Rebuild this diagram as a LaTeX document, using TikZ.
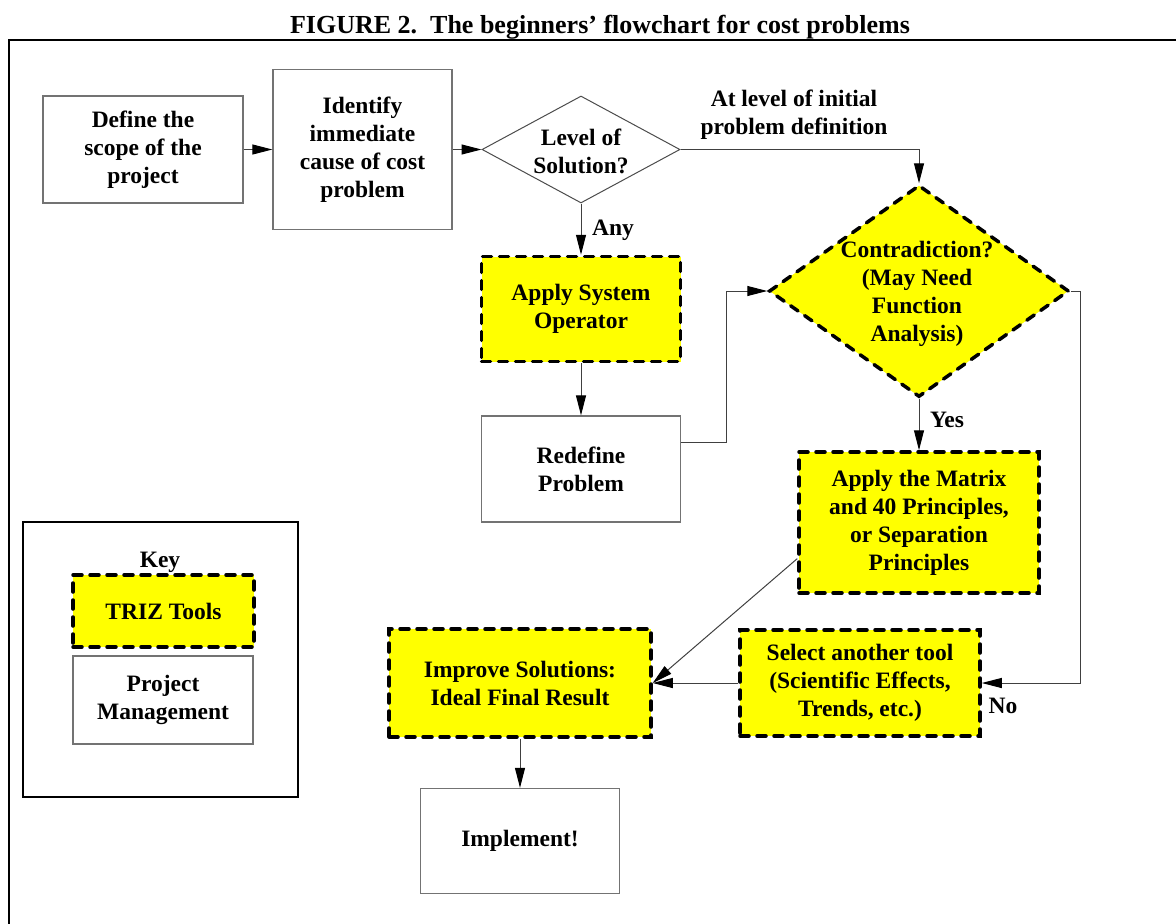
\documentclass[tikz,border=0pt]{standalone}
\usepackage{fontspec}
\setmainfont{Liberation Serif}
\usetikzlibrary{arrows.meta,shapes.geometric,calc}
\definecolor{trizyellow}{RGB}{255,255,0}
\tikzset{
  txt/.style={font=\fontsize{23.5}{28}\selectfont\bfseries, align=center},
  pmbox/.style={txt, draw=black!55, line width=1.3pt, fill=white, inner sep=0pt},
  trizbox/.style={txt, draw=black, fill=trizyellow, line width=3.5pt, dash pattern=on 9pt off 8pt, line cap=round, inner sep=0pt},
  conn/.style={draw=black!75, line width=1pt, -{Triangle[length=20pt,width=10pt,color=black]}},
  lbl/.style={txt, anchor=base},
}
\begin{document}
\begin{tikzpicture}[x=1pt,y=-1pt]
\useasboundingbox (0,0) rectangle (1176,924);
% title and frame
\node[font=\fontsize{26}{30}\selectfont\bfseries, anchor=base] (title) at (600,33) {FIGURE 2.\ \ The beginners’ flowchart for cost problems};
\draw[line width=2pt] (1176,40) -- (9,40) -- (9,924);

% boxes
\node[pmbox, minimum width=200pt, minimum height=107pt] (def) at (143,149.5) {Define the\\scope of the\\project};
\node[pmbox, minimum width=179pt, minimum height=160pt] (ident) at (362.5,149.5) {Identify\\immediate\\cause of cost\\problem};
\node[diamond, draw=black!70, line width=1pt, fill=white, inner sep=0pt, minimum width=198pt, minimum height=107pt] (lvl) at (581,149.5) {};
\node[txt] (lvltxt) at (581,151) {Level of\\Solution?};
\node[trizbox, minimum width=199pt, minimum height=105pt] (aso) at (581,309) {Apply System\\Operator};
\node[pmbox, minimum width=199pt, minimum height=106pt] (redef) at (581,469) {Redefine\\Problem};
\node[trizbox, diamond, minimum width=300pt, minimum height=212pt] (cont) at (919,291) {};
\node[txt] (conttxt) at (917,294) {Contradiction?\\(May Need\\Function\\Analysis)};
\node[trizbox, minimum width=240pt, minimum height=141pt] (matrix) at (919,522.5) {Apply the Matrix\\and 40 Principles,\\or Separation\\Principles};
\node[trizbox, minimum width=240pt, minimum height=106pt] (sel) at (860,683) {Select another tool\\(Scientific Effects,\\Trends, etc.)};
\node[trizbox, minimum width=262pt, minimum height=108pt] (impr) at (520,683) {Improve Solutions:\\Ideal Final Result};
\node[pmbox, minimum width=199pt, minimum height=105pt] (impl) at (520,841) {Implement!};

% key
\node[draw=black, line width=2pt, minimum width=275pt, minimum height=275pt] (key) at (160.5,659.5) {};
\node[lbl] (keytxt) at (160,567) {Key};
\node[trizbox, minimum width=181pt, minimum height=72pt] (ktriz) at (163.5,611) {TRIZ Tools};
\node[pmbox, minimum width=180pt, minimum height=88pt] (kpm) at (163,700) {Project\\Management};

% labels
\node[txt] (lvllab) at (794,115) {At level of initial\\problem definition};
\node[lbl] (anylab) at (613,235) {Any};
\node[lbl] (yeslab) at (947,427) {Yes};
\node[lbl] (nolab) at (1003,713) {No};

% connectors
\coordinate (rdout) at ($(redef.north east)!0.25!(redef.south east)$);
\coordinate (mxout) at ($(matrix.north west)!0.75!(matrix.south west)$);
\draw[conn] (def.east) -- (ident.west);
\draw[conn] (ident.east) -- (lvl.west);
\draw[conn] (lvl.east) -| (cont.north);
\draw[conn] (lvl.south) -- (aso.north);
\draw[conn] (aso.south) -- (redef.north);
\draw[conn] (rdout) -- ++(45,0) |- (cont.west);
\draw[conn] (cont.south) -- (matrix.north);
\draw[conn] (cont.east) -- ++(10,0) |- (sel.east);
\draw[conn] (sel.west) -- (impr.east);
\draw[conn] (mxout) -- (impr.east);
\draw[conn] (impr.south) -- (impl.north);
\end{tikzpicture}
\end{document}
